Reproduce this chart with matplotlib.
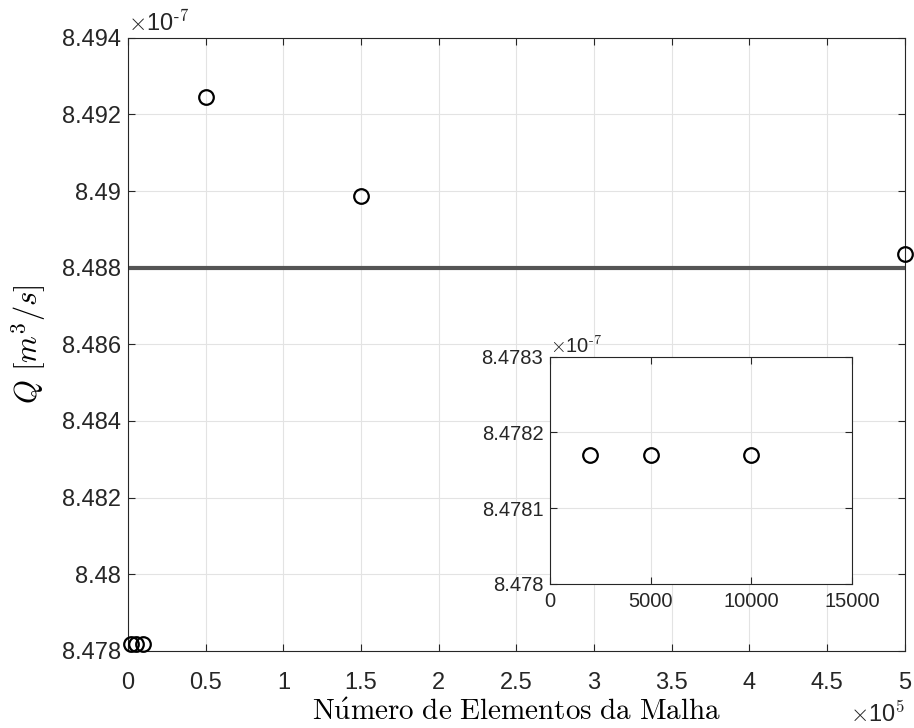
"""Mesh convergence: flow rate Q vs number of mesh elements."""

import matplotlib
matplotlib.use("Agg")
import matplotlib.pyplot as plt
from matplotlib.ticker import FuncFormatter

plt.rcParams["font.family"] = ["Liberation Sans", "DejaVu Sans"]
plt.rcParams["mathtext.fontset"] = "cm"

# data
n_elements = [2000, 5000, 10000, 50000, 150000, 500000]
q_values = [8.47817e-7, 8.47817e-7, 8.47817e-7, 8.49245e-7, 8.48988e-7, 8.48835e-7]
q_reference = 8.4880e-7

inset_n = [2000, 5000, 10000]
inset_q = [8.47817e-7, 8.47817e-7, 8.47817e-7]

main_xticks = [0, 50000, 100000, 150000, 200000, 250000, 300000, 350000, 400000, 450000, 500000]
main_yticks = [8.478e-7, 8.480e-7, 8.482e-7, 8.484e-7, 8.486e-7, 8.488e-7, 8.490e-7, 8.492e-7, 8.494e-7]
inset_xticks = [0, 5000, 10000, 15000]
inset_yticks = [8.4780e-7, 8.4781e-7, 8.4782e-7, 8.4783e-7]

AX_COLOR = "#262626"
GRID_COLOR = "#e3e3e3"


def scaled(power):
    return FuncFormatter(lambda v, pos: "%g" % round(v / 10.0 ** power, 6))


def style_axes(ax, size, xpad=5):
    ax.grid(True, color=GRID_COLOR, linewidth=0.8)
    ax.set_axisbelow(True)
    ax.tick_params(direction="in", top=True, right=True, labelsize=size,
                   colors=AX_COLOR, length=5, width=0.8, pad=5)
    ax.tick_params(axis="x", pad=xpad)
    for s in ax.spines.values():
        s.set_color(AX_COLOR)
        s.set_linewidth(0.8)


fig = plt.figure(figsize=(9.14, 7.28), dpi=100)

# main axes
ax = fig.add_axes([0.140, 0.106, 0.850, 0.842])
ax.axhline(q_reference, color="#555555", linewidth=3, zorder=2)
ax.plot(n_elements, q_values, "o", markersize=10.5, markerfacecolor="none",
        markeredgecolor="black", markeredgewidth=1.6, clip_on=False, zorder=3)
ax.set_xlim(0, 500000)
ax.set_ylim(8.478e-7, 8.494e-7)
ax.set_xticks(main_xticks)
ax.set_yticks(main_yticks)
ax.xaxis.set_major_formatter(scaled(5))
ax.yaxis.set_major_formatter(scaled(-7))
style_axes(ax, 17, xpad=15)
ax.text(0.0, 1.003, r"$\times$10$^{\text{-7}}$", transform=ax.transAxes,
        fontsize=17, color=AX_COLOR, ha="left", va="bottom")
ax.text(1.0, -0.083, r"$\times$10$^5$", transform=ax.transAxes,
        fontsize=17, color=AX_COLOR, ha="right", va="top")
ax.set_xlabel(r"$\mathrm{N\acute{u}mero\ de\ Elementos\ da\ Malha}$", fontsize=21, labelpad=3)
ax.set_ylabel(r"$Q\ [m^3/s]$", fontsize=22, labelpad=10)

# inset
axin = fig.add_axes([0.602, 0.198, 0.330, 0.312])
axin.plot(inset_n, inset_q, "o", markersize=10.5, markerfacecolor="none",
          markeredgecolor="black", markeredgewidth=1.6, zorder=3)
axin.set_xlim(0, 15000)
axin.set_ylim(8.4780e-7, 8.4783e-7)
axin.set_xticks(inset_xticks)
axin.set_yticks(inset_yticks)
axin.xaxis.set_major_formatter(FuncFormatter(lambda v, pos: "%d" % v))
axin.yaxis.set_major_formatter(scaled(-7))
style_axes(axin, 14.5, xpad=6)
axin.text(0.0, 1.0, r"$\times$10$^{\text{-7}}$", transform=axin.transAxes,
          fontsize=14.5, color=AX_COLOR, ha="left", va="bottom")

fig.savefig("out.png", dpi=100)
